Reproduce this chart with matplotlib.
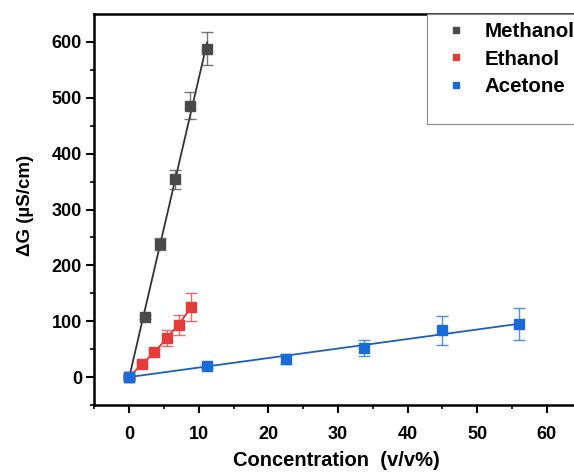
import numpy as np
import matplotlib
matplotlib.use("Agg")
import matplotlib.pyplot as plt
from matplotlib.patches import Rectangle

plt.rcParams['font.family'] = ['Liberation Sans', 'DejaVu Sans']
plt.rcParams['font.weight'] = 'bold'

# Conductance change vs. solvent concentration
meth_x = [0, 2.2, 4.4, 6.6, 8.8, 11.2]
meth_y = [0, 108, 238, 354, 486, 588]
meth_err = [3, 4, 11, 17, 24, 29]

eth_x = [0, 1.8, 3.6, 5.4, 7.1, 8.9]
eth_y = [0, 23, 44, 70, 94, 125]
eth_err = [2, 4, 6, 14, 18, 25]

ace_x = [0, 11.2, 22.5, 33.7, 45.0, 56.0]
ace_y = [0, 20, 32, 52, 84, 95]
ace_err = [2, 4, 9, 15, 26, 29]

c_meth = '#4a4a4a'
c_eth = '#e63b3b'
c_ace = '#1a6ad8'

fig = plt.figure(figsize=(5.74, 4.75), dpi=100)
ax = fig.add_axes([0.1646, 0.1474, 0.875, 0.823])

def fit_line(x, y, color):
    x = np.asarray(x, float)
    y = np.asarray(y, float)
    k = np.sum(x * y) / np.sum(x * x)
    xx = np.array([0, x.max()])
    ax.plot(xx, k * xx, color=color, lw=1.3, zorder=2)

fit_line(meth_x, meth_y, '#333333')
fit_line(ace_x, ace_y, '#1d5fb8')
ax.plot(eth_x, eth_y, color='#d83535', lw=1.3, zorder=2)

for x, y, e, c, lab in [(meth_x, meth_y, meth_err, c_meth, 'Methanol'),
                        (eth_x, eth_y, eth_err, c_eth, 'Ethanol'),
                        (ace_x, ace_y, ace_err, c_ace, 'Acetone')]:
    ax.errorbar(x, y, yerr=e, fmt='none', ecolor=c, elinewidth=1.0,
                capsize=4, capthick=1.0, alpha=0.75, zorder=3)
    ax.plot(x, y, 's', color=c, ms=6.5, label=lab, zorder=4)

ax.set_xlim(-5, 67.2)
ax.set_ylim(-50, 650)
ax.set_xticks([0, 10, 20, 30, 40, 50, 60])
ax.set_xticks(np.arange(-5, 66, 5), minor=True)
ax.set_yticks([0, 100, 200, 300, 400, 500, 600])
ax.set_yticks(np.arange(-50, 650, 50), minor=True)

for s in ['left', 'bottom', 'top']:
    ax.spines[s].set_linewidth(1.8)
ax.spines['right'].set_visible(False)
ax.tick_params(which='major', direction='out', length=6, width=1.5,
               labelsize=13)
ax.tick_params(which='minor', direction='out', length=3, width=1.2)
ax.tick_params(axis='x', which='major', pad=9)
ax.tick_params(axis='y', which='major', pad=3)
ax.tick_params(top=False, right=False)
for t in ax.get_xticklabels() + ax.get_yticklabels():
    t.set_fontweight('bold')

ax.set_xlabel('Concentration  (v/v%)', fontsize=14.5, fontweight='bold')
ax.xaxis.set_label_coords(0.482, -0.118)
ax.set_ylabel('ΔG (µS/cm)', fontsize=13.5, fontweight='bold')
ax.yaxis.set_label_coords(-0.12, 0.51)

leg = ax.legend(loc='upper left', bbox_to_anchor=(0.662, 1.0), fontsize=14.8,
                frameon=False, handlelength=2.0,
                handletextpad=0.4, borderpad=0.4, labelspacing=0.4,
                markerscale=0.7, borderaxespad=0.0)
for t in leg.get_texts():
    t.set_fontweight('bold')

# Legend box, open on the right where the plot area continues
ax.add_patch(Rectangle((0.662, 0.72), 0.4, 0.28, transform=ax.transAxes,
                       facecolor='white', edgecolor='#888888', lw=0.8,
                       clip_on=False, zorder=5))
leg.set_zorder(6)

fig.savefig('out.png', dpi=100)
